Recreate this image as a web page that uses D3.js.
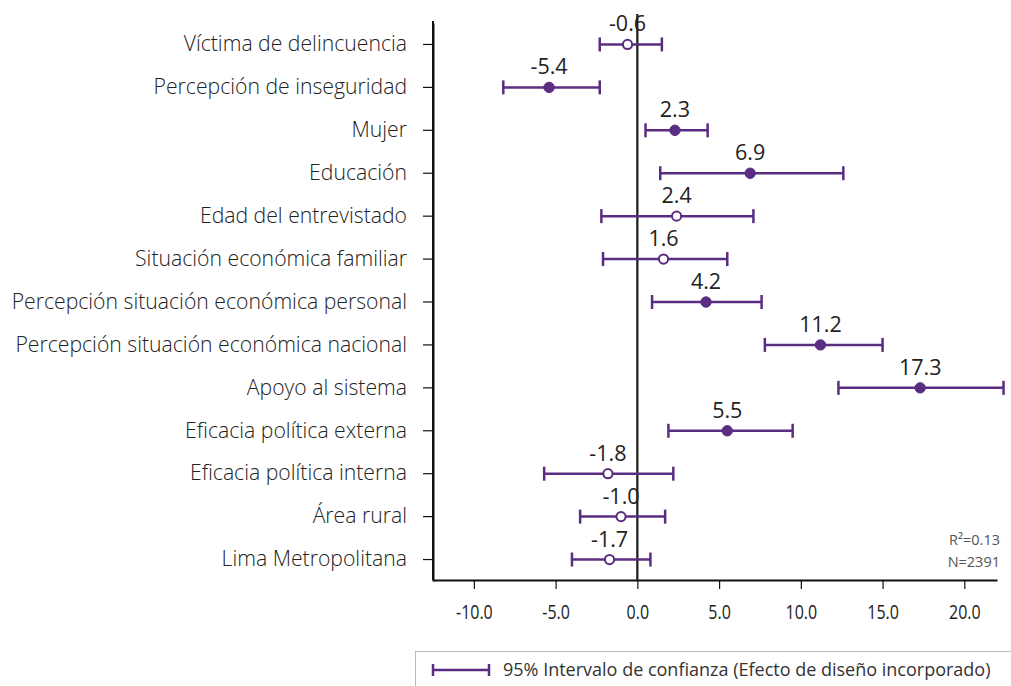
<!DOCTYPE html>
<html><head><meta charset="utf-8">
<script src="https://cdn.jsdelivr.net/npm/d3@7"></script>
<style>
html,body{margin:0;padding:0;background:#fff;}
svg{display:block;font-family:"Open Sans","Noto Sans",sans-serif;}
</style></head>
<body>
<svg id="chart" width="1011" height="686"></svg>
<script>
const categories = ["Víctima de delincuencia","Percepción de inseguridad","Mujer","Educación","Edad del entrevistado","Situación económica familiar","Percepción situación económica personal","Percepción situación económica nacional","Apoyo al sistema","Eficacia política externa","Eficacia política interna","Área rural","Lima Metropolitana"];
const estimates = [-0.6,-5.4,2.3,6.9,2.4,1.6,4.2,11.2,17.3,5.5,-1.8,-1.0,-1.7];
const lower = [-2.3,-8.2,0.5,1.4,-2.2,-2.1,0.9,7.8,12.3,1.9,-5.7,-3.5,-4.0];
const upper = [1.5,-2.3,4.3,12.6,7.1,5.5,7.6,15.0,22.4,9.5,2.2,1.7,0.8];
const significant = [false,true,true,true,false,false,true,true,true,true,false,false,false];
const xTicks = [-10,-5,0,5,10,15,20];
const fitNotes = ["R²=0.13","N=2391"];
const legendLabel = "95% Intervalo de confianza (Efecto de diseño incorporado)";

const purple = "#5b2d82";
const font = "'Open Sans','Noto Sans',sans-serif";
const svg = d3.select("#chart");
const x = d3.scaleLinear().domain([-12.5, 22]).range([433, 997]);
const y = d3.scaleBand().domain(categories).range([23, 581]).padding(0);
const yc = c => y(c) + y.bandwidth()/2;
const fmt = d => d.toFixed(1);

const data = categories.map((c,i)=>({c, est:estimates[i], lo:lower[i], hi:upper[i], sig:significant[i]}));

// x axis
const xAxis = svg.append("g").attr("transform","translate(0,580)")
  .call(d3.axisBottom(x).tickValues(xTicks).tickFormat(fmt).tickSize(9).tickSizeOuter(0).tickPadding(16));
xAxis.select(".domain").attr("stroke","#111").attr("stroke-width",2);
xAxis.selectAll(".tick line").attr("stroke","#111").attr("stroke-width",1.2);
xAxis.selectAll(".tick text").attr("font-size",19.5).attr("fill","#222")
  .attr("font-family",font).attr("transform","scale(0.82,1)");

// y axis
const yAxis = svg.append("g").attr("transform","translate(433,0)")
  .call(d3.axisLeft(y).tickSize(10).tickSizeOuter(0).tickPadding(16));
yAxis.select(".domain").attr("stroke","#111").attr("stroke-width",2);
yAxis.selectAll(".tick line").attr("stroke","#111").attr("stroke-width",1.2);
yAxis.selectAll(".tick text").attr("font-size",21.2).attr("fill","#222")
  .attr("font-family",font).attr("font-weight",300);
svg.append("line").attr("x1",433).attr("x2",433).attr("y1",21).attr("y2",580).attr("stroke","#111").attr("stroke-width",2);

// zero line
svg.append("line").attr("x1",x(0)).attr("x2",x(0)).attr("y1",14).attr("y2",580)
  .attr("stroke","#1a1a1a").attr("stroke-width",2.2);

// error bars
const g = svg.append("g");
const capH = 7;
g.selectAll("line.ci").data(data).join("line").attr("class","ci")
  .attr("x1",d=>x(d.lo)).attr("x2",d=>x(d.hi)).attr("y1",d=>yc(d.c)).attr("y2",d=>yc(d.c))
  .attr("stroke",purple).attr("stroke-width",2.5);
g.selectAll("line.capl").data(data).join("line").attr("class","capl")
  .attr("x1",d=>x(d.lo)).attr("x2",d=>x(d.lo)).attr("y1",d=>yc(d.c)-capH).attr("y2",d=>yc(d.c)+capH)
  .attr("stroke",purple).attr("stroke-width",2.5);
g.selectAll("line.capr").data(data).join("line").attr("class","capr")
  .attr("x1",d=>x(d.hi)).attr("x2",d=>x(d.hi)).attr("y1",d=>yc(d.c)-capH).attr("y2",d=>yc(d.c)+capH)
  .attr("stroke",purple).attr("stroke-width",2.5);
g.selectAll("circle").data(data).join("circle")
  .attr("cx",d=>x(d.est)).attr("cy",d=>yc(d.c)).attr("r",d=>d.sig?5.2:4.6)
  .attr("fill",d=>d.sig?purple:"#fff").attr("stroke",purple).attr("stroke-width",d=>d.sig?1:2);
g.selectAll("text.val").data(data).join("text").attr("class","val")
  .attr("x",d=>x(d.est)).attr("y",d=>yc(d.c)-13).attr("text-anchor","middle")
  .attr("font-size",21.5).attr("fill","#222").text(d=>fmt(d.est));

// fit notes
svg.selectAll("text.note").data(fitNotes).join("text").attr("class","note")
  .attr("x",1000).attr("y",(d,i)=>545+i*22).attr("text-anchor","end")
  .attr("font-size",14.5).attr("fill","#555").text(d=>d);

// legend
svg.append("rect").attr("x",415.5).attr("y",651.5).attr("width",610).attr("height",60)
  .attr("fill","#fff").attr("stroke","#bbb").attr("stroke-width",1);
const ly = 670;
svg.append("line").attr("x1",433).attr("x2",489).attr("y1",ly).attr("y2",ly).attr("stroke",purple).attr("stroke-width",2.5);
svg.append("line").attr("x1",433).attr("x2",433).attr("y1",ly-6).attr("y2",ly+6).attr("stroke",purple).attr("stroke-width",2.5);
svg.append("line").attr("x1",489).attr("x2",489).attr("y1",ly-6).attr("y2",ly+6).attr("stroke",purple).attr("stroke-width",2.5);
svg.append("text").attr("x",503).attr("y",ly+6).attr("font-size",18).attr("fill","#333").text(legendLabel);
</script>
</body></html>
